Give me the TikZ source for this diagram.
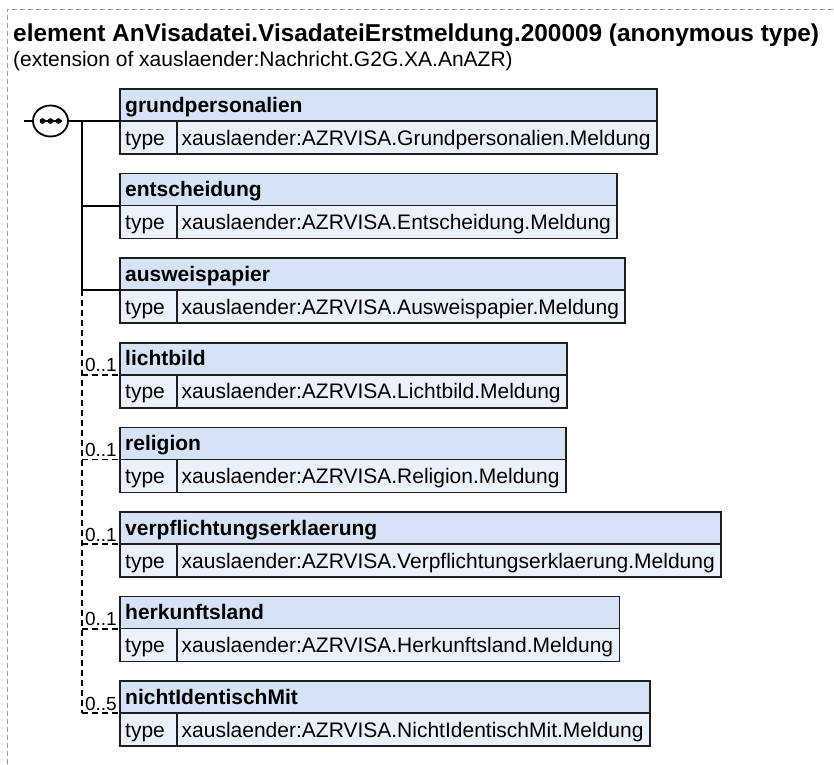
\documentclass[tikz,border=0pt]{standalone}
\usepackage{fontspec}
\setmainfont{Liberation Sans}
\usetikzlibrary{shapes.geometric,calc}
\pgfdeclarelayer{bg}
\pgfsetlayers{bg,main}
\definecolor{hdrblue}{RGB}{214,226,246}
\definecolor{typeblue}{RGB}{235,241,251}
\definecolor{boxline}{RGB}{30,30,30}
\definecolor{outline}{RGB}{150,150,150}
\tikzset{
  conn/.style={line width=1.8pt, black},
  optconn/.style={line width=1.8pt, black, dash pattern=on 6pt off 4pt},
  boxborder/.style={line width=1.7pt, draw=boxline},
  hdrtxt/.style={inner sep=0pt, anchor=base west, font=\fontsize{21}{25}\selectfont\bfseries},
  typetxt/.style={inner sep=0pt, anchor=base west, font=\fontsize{21}{25}\selectfont},
  occtxt/.style={inner sep=0pt, anchor=base east, font=\fontsize{19}{22}\selectfont},
}
\newcommand\elembox[4]{%
  \node[hdrtxt] (#1h) at (125,#2+23) {#3};
  \node[typetxt] (#1k) at (125,#2+56) {type};
  \node[typetxt] (#1t) at (181.5,#2+56) {#4};
  \coordinate (#1tl) at (120,#2);
  \coordinate (#1w) at (120,#2+32);
  \coordinate (#1bot) at (0,#2+65);
  \coordinate (#1mid) at (0,#2+32);
  \coordinate (#1br) at ([xshift=6pt]#1t.east |- #1bot);
  \coordinate (#1mr) at ([xshift=6pt]#1t.east |- #1mid);
  \begin{pgfonlayer}{bg}
    \fill[hdrblue] (#1tl) rectangle (#1mr);
    \fill[typeblue] (#1w) rectangle (#1br);
  \end{pgfonlayer}
  \draw[boxborder] (#1tl) rectangle (#1br);
  \draw[boxborder] (#1w) -- (#1mr);
  \draw[boxborder] (176.7,#2+32) -- (176.7,#2+65);
}
\begin{document}
\begin{tikzpicture}[x=1pt,y=-1pt]
\useasboundingbox (0,0) rectangle (834,764);
% outer dashed frame
\draw[outline, line width=1pt, dash pattern=on 5pt off 3pt] (7,764) -- (7,9) -- (834,9);
% title
\node[inner sep=0pt, anchor=base west, font=\fontsize{24.4}{28}\selectfont\bfseries] (title) at (13,41)
  {element AnVisadatei.VisadateiErstmeldung.200009 (anonymous type)};
\node[typetxt] (subtitle) at (13,66) {(extension of xauslaender:Nachricht.G2G.XA.AnAZR)};
% boxes
\elembox{b1}{89}{grundpersonalien}{xauslaender:AZRVISA.Grundpersonalien.Meldung}
\elembox{b2}{173.6}{entscheidung}{xauslaender:AZRVISA.Entscheidung.Meldung}
\elembox{b3}{258.2}{ausweispapier}{xauslaender:AZRVISA.Ausweispapier.Meldung}
\elembox{b4}{342.8}{lichtbild}{xauslaender:AZRVISA.Lichtbild.Meldung}
\elembox{b5}{427.4}{religion}{xauslaender:AZRVISA.Religion.Meldung}
\elembox{b6}{512}{verpflichtungserklaerung}{xauslaender:AZRVISA.Verpflichtungserklaerung.Meldung}
\elembox{b7}{596.6}{herkunftsland}{xauslaender:AZRVISA.Herkunftsland.Meldung}
\elembox{b8}{681.2}{nichtIdentischMit}{xauslaender:AZRVISA.NichtIdentischMit.Meldung}
% sequence symbol
\coordinate (in) at (24,121);
\node[draw, ellipse, line width=1.8pt, fill=white, minimum width=35pt, minimum height=31pt, inner sep=0pt] (seq) at (50.5,121) {};
\draw[line width=1.8pt] ([xshift=-11pt]seq.center) -- ([xshift=11pt]seq.center);
\foreach \dx in {-8,0,8} \fill ([xshift=\dx pt]seq.center) circle (2.8pt);
% trunk coordinates
\coordinate (t1) at (82,121);
\foreach \i in {2,...,8} \coordinate (t\i) at (b\i w -| t1);
\draw[conn] (in) -- (seq.west);
\draw[conn] (seq.east) -- (b1w);
\draw[conn] (t1) -- (t3);
\draw[conn] (t2) -- (b2w);
\draw[conn] (t3) -- (b3w);
\draw[optconn] (t3) -- (t8);
\foreach \i in {4,...,8} \draw[optconn] (t\i) -- (b\i w);
% occurrence labels
\node[occtxt] (o4) at ([shift={(-3pt,3pt)}]b4w) {0..1};
\node[occtxt] (o5) at ([shift={(-3pt,3pt)}]b5w) {0..1};
\node[occtxt] (o6) at ([shift={(-3pt,3pt)}]b6w) {0..1};
\node[occtxt] (o7) at ([shift={(-3pt,3pt)}]b7w) {0..1};
\node[occtxt] (o8) at ([shift={(-3pt,3pt)}]b8w) {0..5};
\end{tikzpicture}
\end{document}
